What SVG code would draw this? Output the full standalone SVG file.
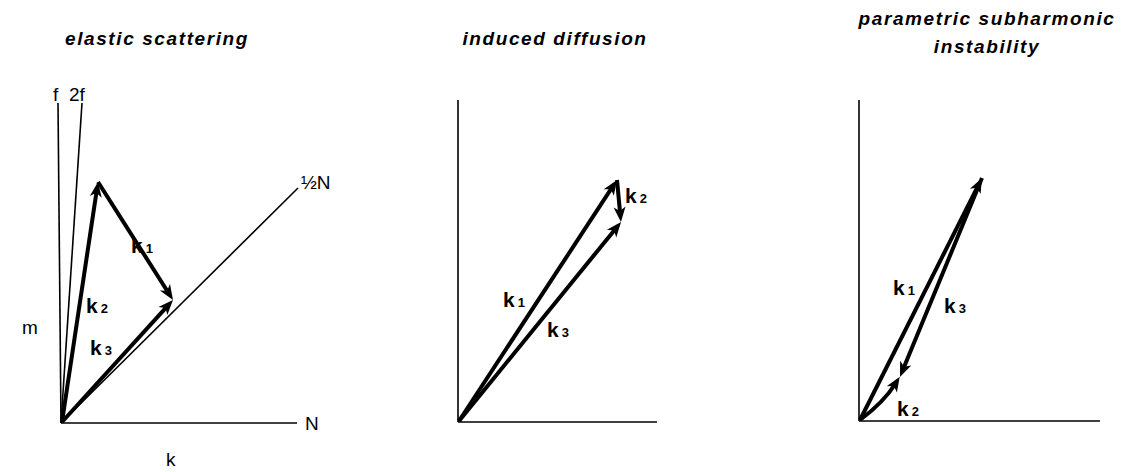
<svg xmlns="http://www.w3.org/2000/svg" width="1147" height="472" viewBox="0 0 1147 472">
<style>
.title{font-family:"Liberation Sans",Arial,sans-serif;font-size:19px;font-style:italic;font-weight:bold;letter-spacing:1.6px;fill:#000;text-anchor:middle}
.lab{font-family:"Liberation Sans",Arial,sans-serif;font-size:19px;fill:#000}
.kl{font-family:"Liberation Sans",Arial,sans-serif;font-size:21px;font-weight:bold;fill:#000}
.sub{font-size:13px}
.axis{stroke:#000;stroke-width:1.6;fill:none}
.vec{stroke:#000;stroke-width:4;fill:none;marker-end:url(#ah)}
</style>
<defs>
<marker id="ah" markerUnits="userSpaceOnUse" markerWidth="20" markerHeight="20" refX="7" refY="0" viewBox="-2 -8 20 16" orient="auto" overflow="visible">
<path d="M15,0 L0,-6 L4,0 L0,6 Z" fill="#000"/>
</marker>
</defs>
<rect width="1147" height="472" fill="#fff"/>

<g id="panel1">
<text class="title" x="157" y="45">elastic scattering</text>
<g id="p1-axes">
<line class="axis" x1="61" y1="423" x2="297" y2="423"/>
<line class="axis" x1="61" y1="423" x2="58" y2="103"/>
<line class="axis" x1="61" y1="423" x2="82" y2="103"/>
<line class="axis" x1="61" y1="423" x2="298" y2="188"/>
</g>
<text class="lab" x="53" y="101">f</text>
<text class="lab" x="69" y="101">2f</text>
<text class="lab" x="301" y="189">½N</text>
<text class="lab" x="305" y="430">N</text>
<text class="lab" x="166" y="466">k</text>
<text class="lab" x="22" y="334">m</text>
<g id="p1-vectors">
<line class="vec" x1="62" y1="422" x2="96.8" y2="189.9"/>
<line class="vec" x1="98" y1="182" x2="168.7" y2="293.2"/>
<line class="vec" x1="62" y1="422" x2="167.6" y2="305.9"/>
</g>
<text class="kl" x="131" y="253">k<tspan class="sub" dx="3">1</tspan></text>
<text class="kl" x="86" y="313">k<tspan class="sub" dx="3">2</tspan></text>
<text class="kl" x="90" y="355">k<tspan class="sub" dx="3">3</tspan></text>
</g>

<g id="panel2">
<text class="title" x="555" y="45">induced diffusion</text>
<g id="p2-axes">
<line class="axis" x1="458" y1="422" x2="657" y2="422"/>
<line class="axis" x1="458" y1="422" x2="458" y2="100"/>
</g>
<g id="p2-vectors">
<line class="vec" x1="459" y1="421" x2="612.6" y2="186.7"/>
<line class="vec" x1="617" y1="180" x2="620.2" y2="214"/>
<line class="vec" x1="459" y1="421" x2="616" y2="228.2"/>
</g>
<text class="kl" x="625" y="203">k<tspan class="sub" dx="3">2</tspan></text>
<text class="kl" x="503" y="307">k<tspan class="sub" dx="3">1</tspan></text>
<text class="kl" x="547" y="337">k<tspan class="sub" dx="3">3</tspan></text>
</g>

<g id="panel3">
<text class="title" x="987" y="25">parametric subharmonic</text>
<text class="title" x="987" y="53">instability</text>
<g id="p3-axes">
<line class="axis" x1="859" y1="421" x2="1100" y2="421"/>
<line class="axis" x1="859" y1="421" x2="859" y2="100"/>
</g>
<g id="p3-vectors">
<line class="vec" x1="860" y1="420" x2="978.4" y2="185.1"/>
<line class="vec" x1="982" y1="178" x2="903" y2="369.6"/>
<path class="vec" d="M860,420 Q884,402 895.5,383.5"/>
</g>
<text class="kl" x="893" y="295">k<tspan class="sub" dx="3">1</tspan></text>
<text class="kl" x="944" y="313">k<tspan class="sub" dx="3">3</tspan></text>
<text class="kl" x="897" y="416">k<tspan class="sub" dx="3">2</tspan></text>
</g>
</svg>
